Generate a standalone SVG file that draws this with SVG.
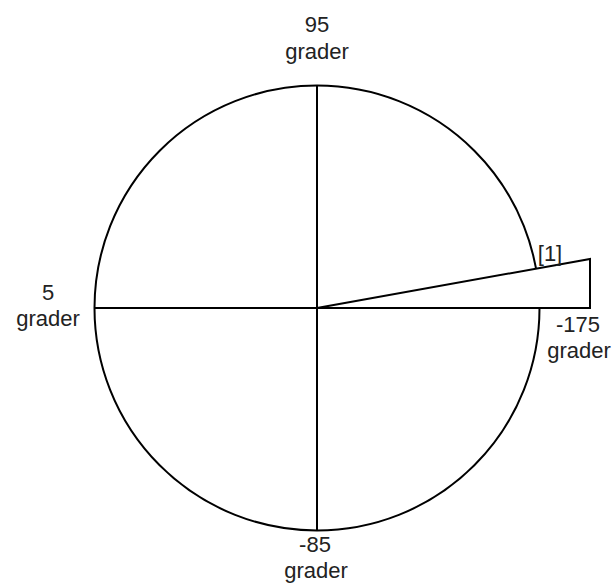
<svg xmlns="http://www.w3.org/2000/svg" width="616" height="586" viewBox="0 0 616 586">
<style>
.ln{fill:none;stroke:#000;stroke-width:2}
.t{font-family:"Liberation Sans",Arial,sans-serif;font-size:22px;fill:#222;text-anchor:middle}
</style>
<rect width="616" height="586" fill="#fff"/>
<g id="circle"><circle class="ln" cx="317" cy="308" r="222.5"/></g>
<g id="connectors">
<line class="ln" x1="317" y1="85.5" x2="317" y2="530.5"/>
<line class="ln" x1="94.5" y1="308" x2="540" y2="308"/>
</g>
<g id="wedge"><polygon points="317,308 590,259 590,308" fill="#fff" stroke="#000" stroke-width="2"/></g>
<g id="label-95"><text class="t" x="317" y="32">95</text><text class="t" x="317" y="59">grader</text></g>
<g id="label-5"><text class="t" x="48" y="300">5</text><text class="t" x="48" y="326">grader</text></g>
<g id="label-175"><text class="t" x="578" y="332">-175</text><text class="t" x="579" y="358">grader</text></g>
<g id="label-85"><text class="t" x="315" y="552">-85</text><text class="t" x="316" y="578">grader</text></g>
<g id="label-1"><text class="t" x="550" y="261">[1]</text></g>
</svg>
